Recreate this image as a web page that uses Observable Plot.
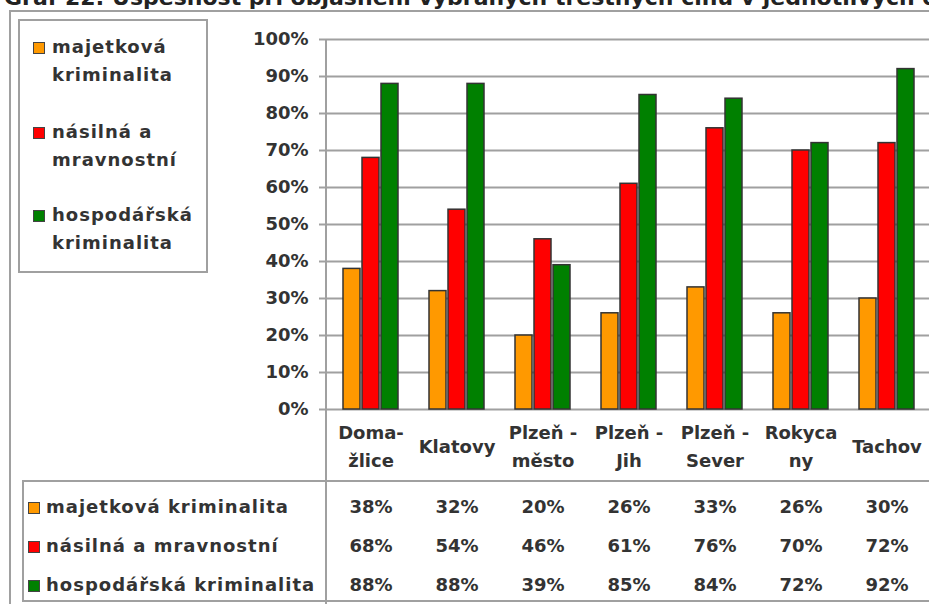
<!DOCTYPE html>
<html><head><meta charset="utf-8">
<script src="https://cdn.jsdelivr.net/npm/d3@7"></script>
<script src="https://cdn.jsdelivr.net/npm/@observablehq/plot@0.6"></script>
<style>
html,body{margin:0;padding:0;background:#fff;}
#wrap{position:relative;width:929px;height:604px;overflow:hidden;font-family:"DejaVu Sans",Verdana,sans-serif;font-weight:bold;color:#333;font-size:18px;}
.ln{position:absolute;background:#a0a0a0;}
#title{position:absolute;left:4px;top:-14px;white-space:nowrap;color:#222;font-size:22px;line-height:24px;}
#chart{position:absolute;left:0;top:0;}
#legend{position:absolute;left:18px;top:19px;width:186px;height:250px;border:2px solid #a0a0a0;background:#fff;}
.item{position:absolute;left:0;line-height:28px;white-space:pre;letter-spacing:1px;}
.sw{position:absolute;width:10px;height:10px;border:1.5px solid #444;}
.rowlab{position:absolute;left:0;line-height:28px;white-space:nowrap;letter-spacing:1px;}
</style></head><body>
<div id="wrap">
  <div id="title">Graf 22: Úspěšnost při objasnění vybraných trestných činů v jednotlivých okresech</div>
  <div class="ln" style="left:9px;top:10px;width:930px;height:2px"></div>
  <div class="ln" style="left:9px;top:10px;width:2px;height:600px"></div>
  <div class="ln" style="left:325px;top:39px;width:2px;height:565px"></div>
  <div class="ln" style="left:22px;top:480px;width:910px;height:2px"></div>
  <div class="ln" style="left:22px;top:600px;width:910px;height:2px"></div>
  <div class="ln" style="left:22px;top:480px;width:2px;height:122px"></div>
  <div id="chart"></div>
  <div id="legend"></div>
  <div id="rows"></div>
</div>
<script>
const categories = ["Domažlice","Klatovy","Plzeň - město","Plzeň - Jih","Plzeň - Sever","Rokycany","Tachov"];
const categoryLabels = ["Doma-\nžlice","Klatovy","Plzeň -\nměsto","Plzeň -\nJih","Plzeň -\nSever","Rokyca\nny","Tachov"];
const seriesNames = ["majetková kriminalita","násilná a mravnostní","hospodářská kriminalita"];
const legendLabels = ["majetková\nkriminalita","násilná a\nmravnostní","hospodářská\nkriminalita"];
const seriesColors = ["#FF9900","#FF0000","#008000"];
const majetkova = [38,32,20,26,33,26,30];
const nasilna = [68,54,46,61,76,70,72];
const hospodarska = [88,88,39,85,84,72,92];
const yTicks = [0,10,20,30,40,50,60,70,80,90,100];

const series = [majetkova, nasilna, hospodarska];
const barOffsets = [-19, 0, 19];
const rowDy = [98, 137, 176];

const chart = Plot.plot({
  width: 932, height: 604,
  marginLeft: 326, marginRight: 0, marginTop: 39, marginBottom: 195,
  style: {background: "transparent", overflow: "visible", maxWidth: "none",
          fontFamily: "DejaVu Sans, Verdana, sans-serif", fontSize: "18px", fontWeight: "bold"},
  x: {type: "band", domain: categories, paddingInner: 0.798, paddingOuter: 0.399, axis: null},
  y: {domain: [0, 100]},
  marks: [
    Plot.gridY(yTicks, {stroke: "#a0a0a0", strokeOpacity: 1, strokeWidth: 2}),
    Plot.axisY(yTicks, {tickSize: 7, tickPadding: 11, stroke: "#a0a0a0", strokeWidth: 2, fill: "#333", tickFormat: d => d + "%"}),
    ...series.map((vals, s) => Plot.barY(categories, {
      x: d => d, y: (d, i) => vals[i], dx: barOffsets[s],
      fill: seriesColors[s], stroke: "#333", strokeWidth: 1.5
    })),
    Plot.text(categories, {x: d => d, text: (d, i) => categoryLabels[i], frameAnchor: "bottom", lineAnchor: "middle", dy: 35, lineHeight: 1.55, fill: "#333"}),
    ...series.map((vals, s) => Plot.text(categories, {
      x: d => d, text: (d, i) => vals[i] + "%", frameAnchor: "bottom", lineAnchor: "middle", dy: rowDy[s], fill: "#333"
    }))
  ]
});
document.getElementById("chart").appendChild(chart);

// legend box
const legend = document.getElementById("legend");
const legendTops = [12, 97, 180];
legendLabels.forEach((lab, s) => {
  const it = document.createElement("div");
  it.className = "item";
  it.style.top = legendTops[s] + "px";
  it.style.left = "32px";
  it.textContent = lab;
  legend.appendChild(it);
  const sw = document.createElement("div");
  sw.className = "sw";
  sw.style.background = seriesColors[s];
  sw.style.left = "13px";
  sw.style.top = (legendTops[s] + 9) + "px";
  legend.appendChild(sw);
});

// table row labels
const rows = document.getElementById("rows");
const rowCenters = [507, 546, 585];
seriesNames.forEach((name, s) => {
  const r = document.createElement("div");
  r.className = "rowlab";
  r.style.top = (rowCenters[s] - 14) + "px";
  r.style.left = "46px";
  r.textContent = name;
  rows.appendChild(r);
  const sw = document.createElement("div");
  sw.className = "sw";
  sw.style.background = seriesColors[s];
  sw.style.left = "28px";
  sw.style.top = (rowCenters[s] - 5) + "px";
  rows.appendChild(sw);
});
</script>
</body></html>
